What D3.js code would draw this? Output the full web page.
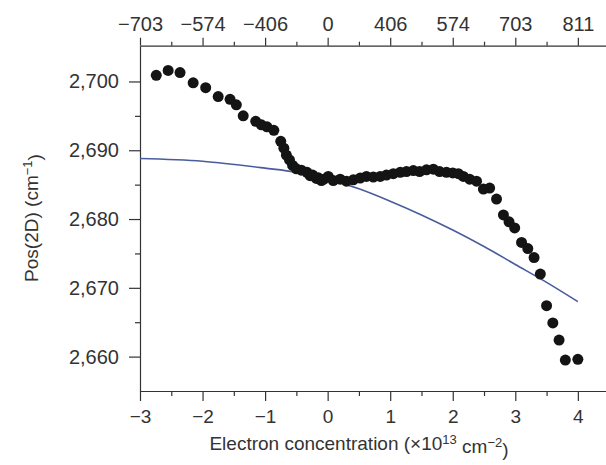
<!DOCTYPE html>
<html>
<head>
<meta charset="utf-8">
<script src="https://cdn.jsdelivr.net/npm/d3@7"></script>
<style>
  body { margin: 0; background: #fff; }
  text { font-family: "Liberation Sans", Arial, sans-serif; fill: #333; }
</style>
</head>
<body>
<div id="chart"></div>
<script>
// Measured 2D peak position vs electron concentration
var concentration = [
  -2.74, -2.55, -2.36, -2.15, -1.95, -1.75, -1.56, -1.46, -1.35, -1.15,
  -1.06, -0.97, -0.86, -0.75, -0.70, -0.66, -0.61, -0.56, -0.50, -0.42,
  -0.33, -0.28, -0.24, -0.18, -0.15, -0.10, -0.06, 0.01, 0.09, 0.20,
  0.30, 0.41, 0.52, 0.62, 0.73, 0.84, 0.94, 1.05, 1.16, 1.26,
  1.37, 1.47, 1.58, 1.69, 1.79, 1.90, 2.00, 2.09, 2.17, 2.27,
  2.38, 2.49, 2.59, 2.70, 2.81, 2.90, 2.99, 3.10, 3.20, 3.30,
  3.40, 3.50, 3.60, 3.70, 3.80, 4.00
];
var pos2D = [
  2700.9, 2701.6, 2701.3, 2699.8, 2699.1, 2697.8, 2697.4, 2696.6, 2695.0, 2694.2,
  2693.7, 2693.4, 2692.9, 2691.3, 2690.3, 2689.3, 2688.6, 2687.8, 2687.3, 2687.1,
  2686.8, 2686.3, 2686.4, 2685.9, 2686.0, 2685.6, 2685.8, 2686.2, 2685.6, 2685.8,
  2685.5, 2685.7, 2685.95, 2686.2, 2686.1, 2686.2, 2686.4, 2686.6, 2686.8, 2686.9,
  2687.05, 2686.9, 2687.15, 2687.25, 2686.9, 2686.8, 2686.7, 2686.6, 2686.2, 2685.8,
  2685.5, 2684.35, 2684.5, 2682.9, 2680.6, 2679.6, 2678.7, 2676.6, 2675.7, 2674.4,
  2672.0, 2667.4, 2664.9, 2662.4, 2659.5, 2659.6
];

// Theory curve
var theoryX = [-3, -2, -1, -0.5, 0, 0.5, 1, 1.5, 2, 2.5, 3, 3.5, 4];
var theoryY = [2688.8, 2688.4, 2687.4, 2686.8, 2685.8, 2684.4, 2682.6, 2680.6, 2678.4, 2676.0, 2673.4, 2670.8, 2668.0];

// Ticks
var bottomTicks = [-3, -2, -1, 0, 1, 2, 3, 4];
var bottomMinor = [-2.5, -1.5, -0.5, 0.5, 1.5, 2.5, 3.5];
var topTickLabels = ["\u2212703", "\u2212574", "\u2212406", "0", "406", "574", "703", "811"];
var yTicks = [2660, 2670, 2680, 2690, 2700];
var yMinor = [2665, 2675, 2685, 2695];

var svgWidth = 606;
var svgHeight = 465;

var svg = d3.select("#chart")
  .append("svg")
  .attr("width", svgWidth)
  .attr("height", svgHeight);

var x = d3.scaleLinear().domain([-3, 4.45]).range([140, 606]);
var y = d3.scaleLinear().domain([2655, 2705.2]).range([391, 45.7]);

var axisColor = "#333";

function styleAxis(g) {
  g.selectAll("path, line").attr("stroke", axisColor).attr("stroke-width", 1.2);
  g.selectAll("text").attr("font-size", "19px").attr("fill", "#333");
}

// Left axis
svg.append("g")
  .attr("transform", "translate(140,0)")
  .call(d3.axisLeft(y).tickValues(yTicks).tickSize(11).tickSizeOuter(0).tickPadding(10)
    .tickFormat(d3.format(",")))
  .call(styleAxis)
  .call(g => g.selectAll("text").attr("font-size", "20px"));

svg.append("g")
  .attr("transform", "translate(140,0)")
  .call(d3.axisLeft(y).tickValues(yMinor).tickSize(5).tickFormat(""))
  .call(styleAxis)
  .call(g => g.select(".domain").remove());

// Bottom axis
svg.append("g")
  .attr("transform", "translate(0,391)")
  .call(d3.axisBottom(x).tickValues(bottomTicks).tickSize(10).tickSizeOuter(0).tickPadding(9))
  .call(styleAxis);

svg.append("g")
  .attr("transform", "translate(0,391)")
  .call(d3.axisBottom(x).tickValues(bottomMinor).tickSize(5).tickFormat(""))
  .call(styleAxis)
  .call(g => g.select(".domain").remove());

// Top axis
svg.append("g")
  .attr("transform", "translate(0,45.7)")
  .call(d3.axisTop(x).tickValues(bottomTicks).tickSize(8).tickSizeOuter(0).tickPadding(7)
    .tickFormat((d, i) => topTickLabels[i]))
  .call(styleAxis)
  .call(g => g.selectAll("text").attr("font-size", "20px"));

svg.append("g")
  .attr("transform", "translate(0,45.7)")
  .call(d3.axisTop(x).tickValues(bottomMinor).tickSize(4).tickFormat(""))
  .call(styleAxis)
  .call(g => g.select(".domain").remove());

// Theory line
var theory = theoryX.map((d, i) => ({ x: d, y: theoryY[i] }));
svg.append("path")
  .datum(theory)
  .attr("fill", "none")
  .attr("stroke", "#4a5c9c")
  .attr("stroke-width", 1.6)
  .attr("d", d3.line().x(d => x(d.x)).y(d => y(d.y)).curve(d3.curveMonotoneX));

// Measured points
var points = concentration.map((d, i) => ({ x: d, y: pos2D[i] }));
svg.append("g").selectAll("circle")
  .data(points)
  .enter()
  .append("circle")
  .attr("cx", d => x(d.x))
  .attr("cy", d => y(d.y))
  .attr("r", 5.5)
  .attr("fill", "#141414");

// Axis labels
var yLabel = svg.append("text")
  .attr("transform", "translate(38,218) rotate(-90)")
  .attr("text-anchor", "middle")
  .attr("font-size", "19px");
yLabel.append("tspan").text("Pos(2D) (cm");
yLabel.append("tspan").attr("dy", "-0.5em").attr("font-size", "13px").text("\u22121");
yLabel.append("tspan").attr("dy", "0.5em").text(")");

var xLabel = svg.append("text")
  .attr("x", 359)
  .attr("y", 450)
  .attr("text-anchor", "middle")
  .attr("font-size", "19px");
xLabel.append("tspan").text("Electron concentration (\u00d710");
xLabel.append("tspan").attr("dy", "-0.5em").attr("font-size", "13px").text("13");
xLabel.append("tspan").attr("dy", "0.5em").text(" cm");
xLabel.append("tspan").attr("dy", "-0.5em").attr("font-size", "13px").text("\u22122");
xLabel.append("tspan").attr("dy", "0.5em").text(")");
</script>
</body>
</html>
